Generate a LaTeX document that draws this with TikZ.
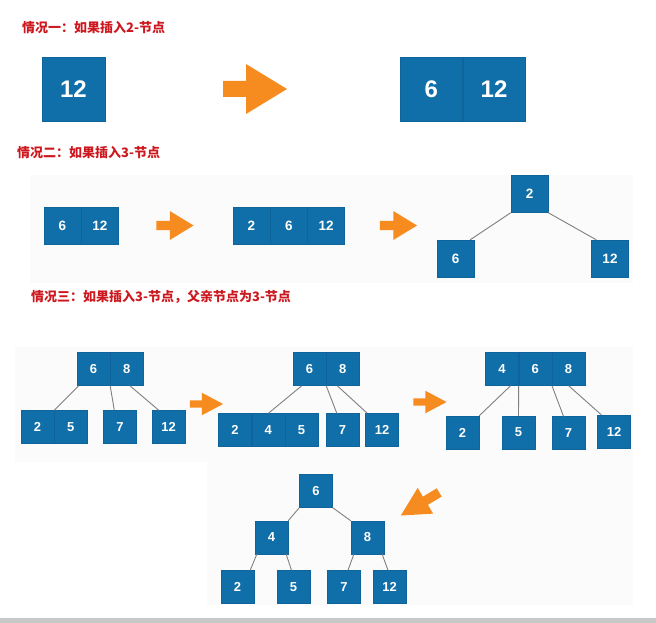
\documentclass[tikz,border=0pt]{standalone}
\usepackage{fontspec}
\setmainfont{Liberation Sans}
\newfontfamily\cjk{Noto Sans CJK SC}
\usetikzlibrary{positioning}

\definecolor{keyblue}{RGB}{16,110,168}
\definecolor{arroworange}{RGB}{246,139,31}
\definecolor{titlered}{RGB}{204,24,30}
\definecolor{panelgray}{RGB}{251,251,251}
\definecolor{bargray}{RGB}{200,200,200}
\definecolor{linkgray}{RGB}{128,128,128}

\tikzset{fatarrow/.pic={
  \fill[arroworange] (-32,-8) -- (-9,-8) -- (-9,-25) -- (32,0) -- (-9,25) -- (-9,8) -- (-32,8) -- cycle;}}

\begin{document}
\begin{tikzpicture}[x=1pt,y=-1pt,node distance=0pt]
    \tikzstyle{keybig}=[rectangle,fill=keyblue,draw=keyblue!92!black,line width=0.3pt,
    text=white,font=\bfseries\fontsize{24}{24}\selectfont,minimum width=62.5pt,minimum height=64pt,inner sep=0pt]
    \tikzstyle{keymid}=[keybig,font=\bfseries\fontsize{13.5}{13.5}\selectfont,minimum width=37pt,minimum height=37pt]
    \tikzstyle{keysmall}=[keybig,font=\bfseries\fontsize{13}{13}\selectfont,minimum width=33pt,minimum height=33pt]
    \tikzstyle{title}=[anchor=west,inner sep=0pt,text=titlered,font=\cjk\bfseries\fontsize{13}{13}\selectfont]
    \tikzstyle{link}=[draw=linkgray,line width=0.9pt]

    \useasboundingbox (0,0) rectangle (656,623);
    \fill[panelgray] (30,175) rectangle (633,283);
    \fill[panelgray] (15,347) rectangle (633,462);
    \fill[panelgray] (207,462) rectangle (633,605);
    \fill[bargray] (0,618) rectangle (656,623);

    % case one
    \node [title] (caseOne) at (22,28) {情况一：如果插入2-节点};
    \node [keybig] (twelveA) at (73.5,89) {12};
    \pic [shift={(255,89)}] {fatarrow};
    \node [keybig] (sixB) at (431.25,89) {6};
    \node [keybig] (twelveB) [right=of sixB] {12};

    % case two
    \node [title] (caseTwo) at (17,153) {情况二：如果插入3-节点};
    \node [keymid] (sixC) at (62.5,225.5) {6};
    \node [keymid] (twelveC) [right=of sixC] {12};
    \pic [shift={(175,225.5)},scale=0.58] {fatarrow};
    \node [keymid] (twoD) at (251.5,225.5) {2};
    \node [keymid] (sixD) [right=of twoD] {6};
    \node [keymid] (twelveD) [right=of sixD] {12};
    \pic [shift={(398.5,225.5)},scale=0.58] {fatarrow};
    \node [keymid] (twoE) at (529.5,194) {2};
    \node [keymid] (sixE) at (455.5,258.5) {6};
    \node [keymid] (twelveE) at (610,258.5) {12};

    \path (twoE.south west) edge [link] ([xshift=-4pt]sixE.north east);
    \path (twoE.south east) edge [link] ([xshift=5pt]twelveE.north west);

    % case three
    \node [title] (caseThree) at (31,297) {情况三：如果插入3-节点，父亲节点为3-节点};
    \node [keysmall] (sixF) at (93.5,369) {6};
    \node [keysmall] (eightF) [right=of sixF] {8};
    \node [keysmall] (twoF) at (37.5,427) {2};
    \node [keysmall] (fiveF) [right=of twoF] {5};
    \node [keysmall] (sevenF) at (120,427) {7};
    \node [keysmall] (twelveF) at (168.5,427) {12};

    \path ([xshift=2pt]sixF.south west) edge [link] (twoF.north east);
    \path (sixF.south east) edge [link] ([xshift=11pt]sevenF.north west);
    \path ([xshift=3pt]eightF.south) edge [link] ([xshift=7pt]twelveF.north west);

    \pic [shift={(206.5,404)},xscale=0.52,yscale=0.45] {fatarrow};

    \node [keysmall] (sixG) at (309.5,369) {6};
    \node [keysmall] (eightG) [right=of sixG] {8};
    \node [keysmall] (twoG) at (235,430) {2};
    \node [keysmall] (fourG) [right=of twoG] {4};
    \node [keysmall] (fiveG) [right=of fourG] {5};
    \node [keysmall] (sevenG) at (342.5,430) {7};
    \node [keysmall] (twelveG) at (382,430) {12};

    \path ([xshift=9pt]sixG.south west) edge [link] (fourG.north);
    \path (sixG.south east) edge [link] ([xshift=11pt]sevenG.north west);
    \path ([xshift=11pt]eightG.south west) edge [link] ([xshift=2pt]twelveG.north west);

    \pic [shift={(430,402)},xscale=0.52,yscale=0.45] {fatarrow};

    \node [keysmall] (fourH) at (502,369) {4};
    \node [keysmall] (sixH) [right=of fourH] {6};
    \node [keysmall] (eightH) [right=of sixH] {8};
    \node [keysmall] (twoH) at (462.5,432.5) {2};
    \node [keysmall] (fiveH) at (518.5,432.5) {5};
    \node [keysmall] (sevenH) at (568.5,433) {7};
    \node [keysmall] (twelveH) at (614,431.5) {12};

    \path ([xshift=-8pt]fourH.south east) edge [link] (twoH.north east);
    \path (fourH.south east) edge [link] (fiveH.north);
    \path (sixH.south east) edge [link] ([xshift=-5pt]sevenH.north);
    \path (eightH.south) edge [link] ([xshift=4pt]twelveH.north west);

    % split result
    \pic [shift={(420,504)},rotate=211,xscale=0.7,yscale=0.6] {fatarrow};
    \node [keysmall] (sixK) at (316,491) {6};
    \node [keysmall] (fourK) at (271.5,537.5) {4};
    \node [keysmall] (eightK) at (367.5,537.5) {8};
    \node [keysmall] (twoK) at (237.5,587) {2};
    \node [keysmall] (fiveK) at (293.5,587) {5};
    \node [keysmall] (sevenK) at (344,587) {7};
    \node [keysmall] (twelveK) at (389.5,587) {12};

    \path (sixK.south west) edge [link] (fourK.north east);
    \path (sixK.south east) edge [link] (eightK.north west);
    \path ([xshift=2pt]fourK.south west) edge [link] ([xshift=-4pt]twoK.north east);
    \path ([xshift=-2pt]fourK.south east) edge [link] ([xshift=-2pt]fiveK.north);
    \path ([xshift=3pt]eightK.south west) edge [link] ([xshift=4pt]sevenK.north);
    \path ([xshift=-2pt]eightK.south east) edge [link] ([xshift=-1.5pt]twelveK.north);

\end{tikzpicture}
\end{document}
